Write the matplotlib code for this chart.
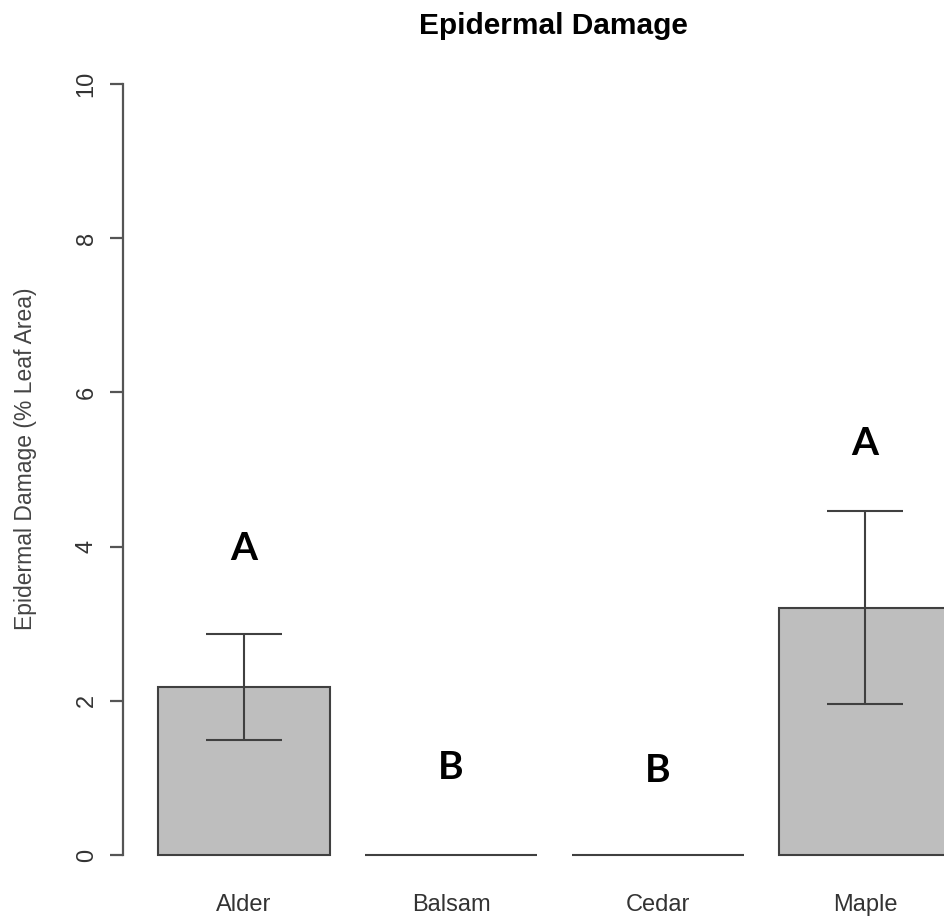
import matplotlib
matplotlib.use("Agg")
import matplotlib.pyplot as plt

# mean damage per host tree, with standard error and group letters
species = ["Alder", "Balsam", "Cedar", "Maple"]
damage = [2.18, 0.0, 0.0, 3.21]
std_err = [0.69, 0.0, 0.0, 1.25]
groups = ["A", "B", "B", "A"]
group_y = [3.97, 1.13, 1.10, 5.34]
yticks = [0, 2, 4, 6, 8, 10]

# barplot() style positions: width 1, space 0.2
centers = [0.7 + 1.2 * i for i in range(len(species))]

axis_col = "#555555"
edge_col = "#404040"

fig = plt.figure(figsize=(9.45, 9.21), dpi=100)
ax = fig.add_axes([0.1304, 0.0382, 0.8762, 0.904])

ax.bar(centers, damage, width=1.0, color="#bebebe", edgecolor=edge_col, linewidth=1.5, zorder=2)
ax.errorbar(centers[:1] + centers[3:], damage[:1] + damage[3:],
            yerr=std_err[:1] + std_err[3:], fmt="none", ecolor=edge_col,
            elinewidth=1.5, capsize=27.4, capthick=1.5, zorder=3)

for x, y, g in zip(centers, group_y, groups):
    ax.text(x, y, g, ha="center", va="center", fontsize=28, fontweight="bold",
            family=["Lato", "DejaVu Sans"], color="black")

ax.set_xlim(0, 4.8)
ax.set_ylim(-0.4, 10.4)

for side in ["top", "right", "bottom"]:
    ax.spines[side].set_visible(False)
ax.spines["left"].set_bounds(0, 10)
ax.spines["left"].set_color(axis_col)
ax.spines["left"].set_linewidth(1.6)

ax.set_yticks(yticks)
ax.set_yticklabels([str(t) for t in yticks], rotation=90, va="center",
                   family="Liberation Sans", fontsize=17, color="#333333")
ax.tick_params(axis="y", length=9.4, width=1.6, color=axis_col, pad=9)

ax.set_xticks(centers)
ax.set_xticklabels(species, family="Liberation Sans", fontsize=17, color="#333333")
ax.tick_params(axis="x", length=0, pad=6)

fig.text(26 / 945, 1 - 459 / 921, "Epidermal Damage (% Leaf Area)", rotation=90,
         ha="center", va="center", family="Liberation Sans", fontsize=16.5, color="#444444")
fig.text(553 / 945, 1 - 26 / 921, "Epidermal Damage", ha="center", va="center",
         family="Liberation Sans", fontweight="bold", fontsize=21.5, color="black")

fig.savefig("out.png", dpi=100)
